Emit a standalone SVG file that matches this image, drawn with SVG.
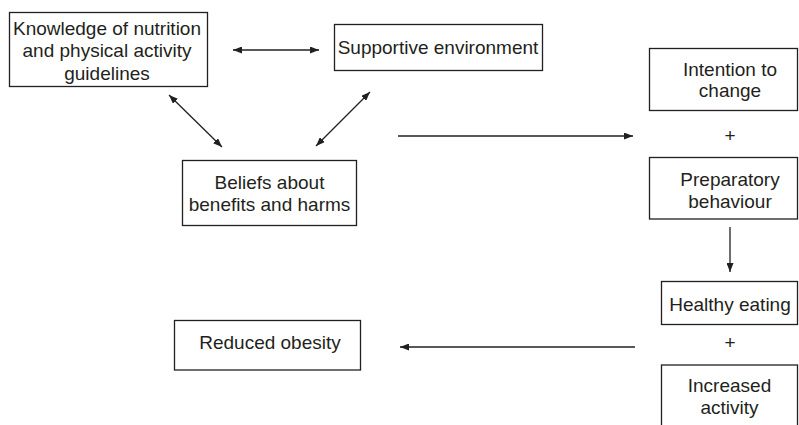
<svg xmlns="http://www.w3.org/2000/svg" width="799" height="425" viewBox="0 0 799 425">
<style>
  .box { fill: #ffffff; stroke: #231f20; stroke-width: 1.3; }
  .lbl { font-family: "Liberation Sans", Arial, sans-serif; font-size: 19px; fill: #231f20; text-anchor: middle; }
  .conn { stroke: #231f20; stroke-width: 1.3; fill: none; }
</style>
<defs>
  <marker id="ah" viewBox="0 0 9 7" refX="9" refY="3.5" markerWidth="9" markerHeight="7" markerUnits="userSpaceOnUse" orient="auto-start-reverse">
    <path d="M0,0 L9,3.5 L0,7 z" fill="#231f20"/>
  </marker>
</defs>
<rect width="799" height="425" fill="#ffffff"/>

<g id="node-knowledge">
  <rect class="box" x="9.5" y="12.5" width="198" height="74"/>
  <text class="lbl" x="107" y="34.5">Knowledge of nutrition</text>
  <text class="lbl" x="107" y="57">and physical activity</text>
  <text class="lbl" x="107" y="79.5">guidelines</text>
</g>
<g id="node-supportive">
  <rect class="box" x="334.5" y="24.5" width="208" height="46"/>
  <text class="lbl" x="438" y="54">Supportive environment</text>
</g>
<g id="node-beliefs">
  <rect class="box" x="182.5" y="160.5" width="174" height="65"/>
  <text class="lbl" x="269.5" y="188.5">Beliefs about</text>
  <text class="lbl" x="269.5" y="211">benefits and harms</text>
</g>
<g id="node-intention">
  <rect class="box" x="649.5" y="48.5" width="148" height="62"/>
  <text class="lbl" x="730" y="75.5">Intention to</text>
  <text class="lbl" x="730" y="97">change</text>
</g>
<g id="plus-1">
  <text class="lbl" x="730" y="142">+</text>
</g>
<g id="node-preparatory">
  <rect class="box" x="649.5" y="157.5" width="148" height="61.5"/>
  <text class="lbl" x="730" y="185.5">Preparatory</text>
  <text class="lbl" x="730" y="207.5">behaviour</text>
</g>
<g id="node-healthy">
  <rect class="box" x="661.5" y="281.5" width="136" height="43"/>
  <text class="lbl" x="730" y="310.5">Healthy eating</text>
</g>
<g id="plus-2">
  <text class="lbl" x="730" y="348.5">+</text>
</g>
<g id="node-activity">
  <rect class="box" x="661.5" y="365" width="136" height="70"/>
  <text class="lbl" x="729.5" y="391.5">Increased</text>
  <text class="lbl" x="729.5" y="413.5">activity</text>
</g>
<g id="node-obesity">
  <rect class="box" x="174.5" y="320.5" width="186" height="49.5"/>
  <text class="lbl" x="270" y="348.5">Reduced obesity</text>
</g>

<g id="connectors">
  <line class="conn" x1="233" y1="50" x2="319" y2="50" marker-start="url(#ah)" marker-end="url(#ah)"/>
  <line class="conn" x1="169" y1="95" x2="222" y2="147" marker-start="url(#ah)" marker-end="url(#ah)"/>
  <line class="conn" x1="370" y1="92" x2="316" y2="146" marker-start="url(#ah)" marker-end="url(#ah)"/>
  <line class="conn" x1="398" y1="136" x2="633" y2="136" marker-end="url(#ah)"/>
  <line class="conn" x1="730" y1="227" x2="730" y2="272" marker-end="url(#ah)"/>
  <line class="conn" x1="635" y1="347" x2="400" y2="347" marker-end="url(#ah)"/>
</g>
</svg>
